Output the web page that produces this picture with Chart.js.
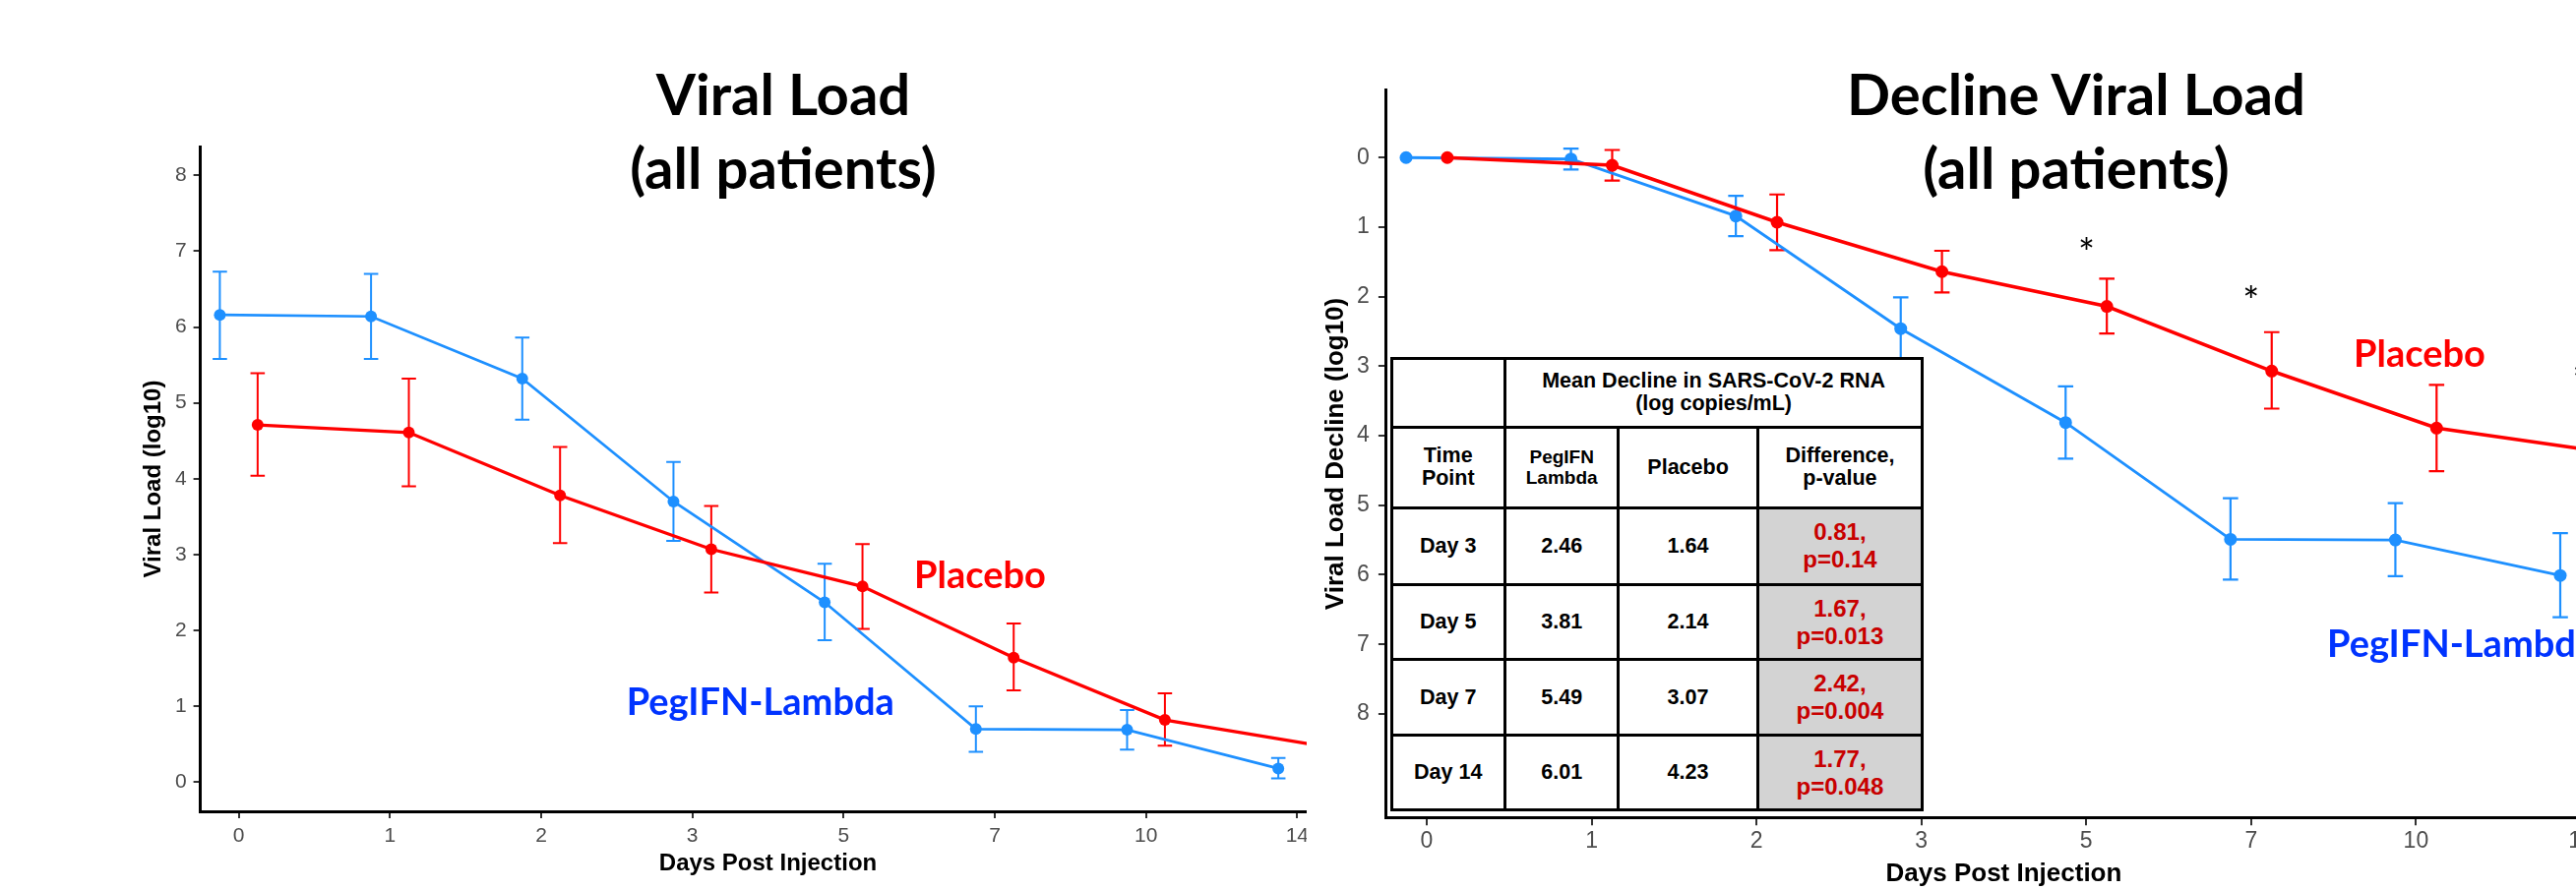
<!DOCTYPE html>
<html>
<head>
<meta charset="utf-8">
<script src="https://cdn.jsdelivr.net/npm/chart.js@4"></script>
<style>
html,body{margin:0;padding:0;width:2618px;height:905px;overflow:hidden;background:#fff;}
.box{position:absolute;top:0;height:905px;overflow:hidden;}
#leftBox{left:0;width:1328px;}
#rightBox{left:1330px;width:1288px;}
canvas{position:absolute;left:0;top:0;}
.title{position:absolute;top:57px;width:700px;font-family:Lato,sans-serif;font-weight:700;font-size:58px;line-height:75px;text-align:center;white-space:nowrap;color:#000;}
.lab{position:absolute;font-family:Lato,sans-serif;font-weight:700;font-size:38px;line-height:38px;white-space:nowrap;}
.red{color:#ff0000;}
.blue{color:#0033ff;}
.star{position:absolute;font-family:Lato,sans-serif;font-size:40px;line-height:40px;transform:translateX(-50%);color:#000;}
#tbl{position:absolute;left:1412.5px;top:362.5px;display:grid;background:#000;padding:3px;gap:3px;
 grid-template-columns:112.5px 112.4px 138.3px 164.5px;
 grid-template-rows:67px 79.7px 74.6px 73.7px 73.7px 73.3px;
 font-family:'Liberation Sans',Arial,sans-serif;font-weight:700;color:#000;}
#tbl div{background:#fff;display:flex;align-items:center;justify-content:center;text-align:center;font-size:21.5px;line-height:23px;}
#tbl div.span3{grid-column:span 3;}
#tbl div.small{font-size:19px;line-height:21px;}
#tbl div.g{background:#d3d3d3;color:#c80000;font-size:24px;line-height:28px;}
</style>
</head>
<body>
<div id="leftBox" class="box"><canvas id="c1" width="1400" height="905"></canvas></div>
<div id="rightBox" class="box"><canvas id="c2" width="1374" height="905"></canvas></div>

<div class="title" style="left:446px;">Viral Load<br>(all patients)</div>
<div class="title" style="left:1760px;">Decline Viral Load<br>(all patients)</div>

<div class="lab red" style="left:929px;top:563.6px;">Placebo</div>
<div class="lab blue" style="left:636.7px;top:693px;">PegIFN-Lambda</div>
<div class="lab red" style="left:2392px;top:339.3px;">Placebo</div>
<div class="lab blue" style="left:2365px;top:633.7px;">PegIFN-Lambda</div>

<div class="star" style="left:2120.4px;top:237.3px;">*</div>
<div class="star" style="left:2287.8px;top:286.3px;">*</div>
<div class="star" style="left:2623px;top:366.6px;">*</div>

<div id="tbl"></div>

<script>
// ---- categories / ticks ----
const days = ['0', '1', '2', '3', '5', '7', '10', '14'];
const loadTicks = [0, 1, 2, 3, 4, 5, 6, 7, 8];
const declineTicks = [0, 1, 2, 3, 4, 5, 6, 7, 8];

// ---- Viral load (log10), all patients ----
const loadPeg   = [6.16, 6.14, 5.32, 3.70, 2.37, 0.70, 0.69, 0.18];
const loadPegLo = [5.58, 5.58, 4.78, 3.18, 1.87, 0.40, 0.43, 0.05];
const loadPegHi = [6.73, 6.70, 5.86, 4.22, 2.88, 1.00, 0.95, 0.32];
const loadPla   = [4.71, 4.61, 3.78, 3.07, 2.58, 1.64, 0.82, 0.49];
const loadPlaLo = [4.04, 3.90, 3.15, 2.50, 2.02, 1.21, 0.48, 0.20];
const loadPlaHi = [5.39, 5.32, 4.42, 3.64, 3.14, 2.09, 1.17, 0.80];

// ---- Decline in viral load (log10) ----
const declPeg   = [0, 0.02, 0.84, 2.46, 3.81, 5.49, 5.50, 6.01];
const declPegLo = [0, -0.13, 0.55, 2.01, 3.29, 4.90, 4.97, 5.40];
const declPegHi = [0, 0.17, 1.13, 2.91, 4.33, 6.07, 6.02, 6.61];
const declPla   = [0, 0.11, 0.93, 1.64, 2.14, 3.07, 3.89, 4.23];
const declPlaLo = [0, -0.11, 0.53, 1.34, 1.74, 2.51, 3.27, 3.60];
const declPlaHi = [0, 0.33, 1.33, 1.94, 2.53, 3.61, 4.51, 4.85];

// ---- table ----
const tableHead1 = 'Mean Decline in SARS-CoV-2 RNA<br>(log copies/mL)';
const tableHead2 = ['Time<br>Point', 'PegIFN<br>Lambda', 'Placebo', 'Difference,<br>p-value'];
const tableDays = ['Day 3', 'Day 5', 'Day 7', 'Day 14'];
const tablePeg  = ['2.46', '3.81', '5.49', '6.01'];
const tablePla  = ['1.64', '2.14', '3.07', '4.23'];
const tableDiff = ['0.81', '1.67', '2.42', '1.77'];
const tableP    = ['p=0.14', 'p=0.013', 'p=0.004', 'p=0.048'];

// build table
(function(){
  const t = document.getElementById('tbl');
  let h = '<div></div><div class="span3">' + tableHead1 + '</div>';
  tableHead2.forEach((s, i) => { h += '<div' + (i === 1 ? ' class="small"' : '') + '>' + s + '</div>'; });
  tableDays.forEach((d, i) => {
    h += '<div>' + d + '</div><div>' + tablePeg[i] + '</div><div>' + tablePla[i] + '</div>' +
         '<div class="g">' + tableDiff[i] + ',<br>' + tableP[i] + '</div>';
  });
  t.innerHTML = h;
})();

const RED = '#ff0000';
const BLUE = '#1e90ff';
const TICKGREY = '#4d4d4d';
const DODGE = 0.125;

const errorBars = {
  id: 'errorBars',
  beforeDatasetsDraw(chart) {
    const {ctx, chartArea, scales} = chart;
    const xs = scales.x, ys = scales.y;
    ctx.save();
    ctx.beginPath();
    ctx.rect(chartArea.left, chartArea.top, chartArea.right - chartArea.left, chartArea.bottom - chartArea.top);
    ctx.clip();
    chart.data.datasets.forEach(ds => {
      if (!ds.errLo) return;
      ctx.strokeStyle = ds.borderColor;
      ctx.lineWidth = ds.errWidth;
      ds.data.forEach((p, i) => {
        const lo = ds.errLo[i], hi = ds.errHi[i];
        if (lo === hi) return;
        const px = xs.getPixelForValue(p.x);
        const y1 = ys.getPixelForValue(lo), y2 = ys.getPixelForValue(hi);
        const c = ds.capHalf;
        ctx.beginPath();
        ctx.moveTo(px, y1); ctx.lineTo(px, y2);
        ctx.moveTo(px - c, y1); ctx.lineTo(px + c, y1);
        ctx.moveTo(px - c, y2); ctx.lineTo(px + c, y2);
        ctx.stroke();
      });
    });
    ctx.restore();
  }
};

function series(vals, lo, hi, color, offset, lw, r, ew, cap) {
  return {
    data: vals.map((v, i) => ({x: i + offset, y: v})),
    errLo: lo, errHi: hi, errWidth: ew, capHalf: cap,
    borderColor: color, backgroundColor: color,
    borderWidth: lw, pointRadius: r, pointHoverRadius: r,
    pointBackgroundColor: color, pointBorderWidth: 0, tension: 0
  };
}

function makeChart(id, o) {
  const font = 'Liberation Sans';
  return new Chart(document.getElementById(id), {
    type: 'line',
    data: {
      datasets: [
        series(o.pla, o.plaLo, o.plaHi, RED, DODGE, o.lwRed, o.r, o.ew, o.cap),
        series(o.peg, o.pegLo, o.pegHi, BLUE, -DODGE, o.lwBlue, o.r, o.ew, o.cap)
      ]
    },
    options: {
      responsive: false, animation: false,
      layout: {padding: {top: o.padTop, right: o.padRight, bottom: 0, left: 0}},
      plugins: {legend: {display: false}, tooltip: {enabled: false}, title: {display: false}},
      scales: {
        x: {
          type: 'linear', min: o.xMin, max: o.xMax,
          afterBuildTicks: s => { s.ticks = days.map((d, i) => ({value: i})); },
          afterFit: s => { s.height = o.xHeight; },
          ticks: {callback: v => days[v], color: TICKGREY, font: {family: font, size: o.tickSize},
                  padding: o.xTickPad, maxRotation: 0, autoSkip: false},
          grid: {display: true, drawOnChartArea: false, drawTicks: true, tickLength: o.tickLen, color: '#333', lineWidth: 2},
          border: {display: true, color: '#000', width: 3},
          title: {display: true, text: 'Days Post Injection', color: '#000',
                  font: {family: font, size: o.titleSize, weight: 'bold'}, padding: {top: 0, bottom: o.xTitlePad}}
        },
        y: {
          type: 'linear', min: o.yMin, max: o.yMax, reverse: o.reverse,
          afterBuildTicks: s => { s.ticks = o.yTicks.map(v => ({value: v})); },
          afterFit: s => { s.width = o.yWidth; },
          ticks: {color: TICKGREY, font: {family: font, size: o.tickSize}, padding: o.yTickPad},
          grid: {display: true, drawOnChartArea: false, drawTicks: true, tickLength: o.tickLen, color: '#333', lineWidth: 2},
          border: {display: true, color: '#000', width: 3},
          title: {display: true, text: o.yTitle, color: '#000',
                  font: {family: font, size: o.titleSize, weight: 'bold'}, padding: {top: o.yTitlePad, bottom: 0}}
        }
      }
    },
    plugins: [errorBars]
  });
}

makeChart('c1', {
  peg: loadPeg, pegLo: loadPegLo, pegHi: loadPegHi,
  pla: loadPla, plaLo: loadPlaLo, plaHi: loadPlaHi,
  yTicks: loadTicks, yMin: -0.385, yMax: 8.38, reverse: false,
  xMin: -0.254, xMax: 7.254,
  padTop: 149, padRight: 42.6, yWidth: 203.6, xHeight: 80,
  tickSize: 21, tickLen: 7, xTickPad: 5.9, yTickPad: 7,
  titleSize: 24, xTitlePad: 11.9, yTitlePad: 142.3,
  yTitle: 'Viral Load (log10)',
  lwRed: 3.3, lwBlue: 2.7, r: 6, ew: 2, cap: 7.3
});

makeChart('c2', {
  peg: declPeg, pegLo: declPegLo, pegHi: declPegHi,
  pla: declPla, plaLo: declPlaLo, plaHi: declPlaHi,
  yTicks: declineTicks, yMin: -0.97, yMax: 9.49, reverse: true,
  xMin: -0.245, xMax: 7.245,
  padTop: 91.7, padRight: 40, yWidth: 78.9, xHeight: 73.8,
  tickSize: 23, tickLen: 8, xTickPad: 3, yTickPad: 9,
  titleSize: 26, xTitlePad: 0.8, yTitlePad: 12.4,
  yTitle: 'Viral Load Decline (log10)',
  lwRed: 3.6, lwBlue: 2.9, r: 6.5, ew: 2.2, cap: 7.8
});
</script>
</body>
</html>
